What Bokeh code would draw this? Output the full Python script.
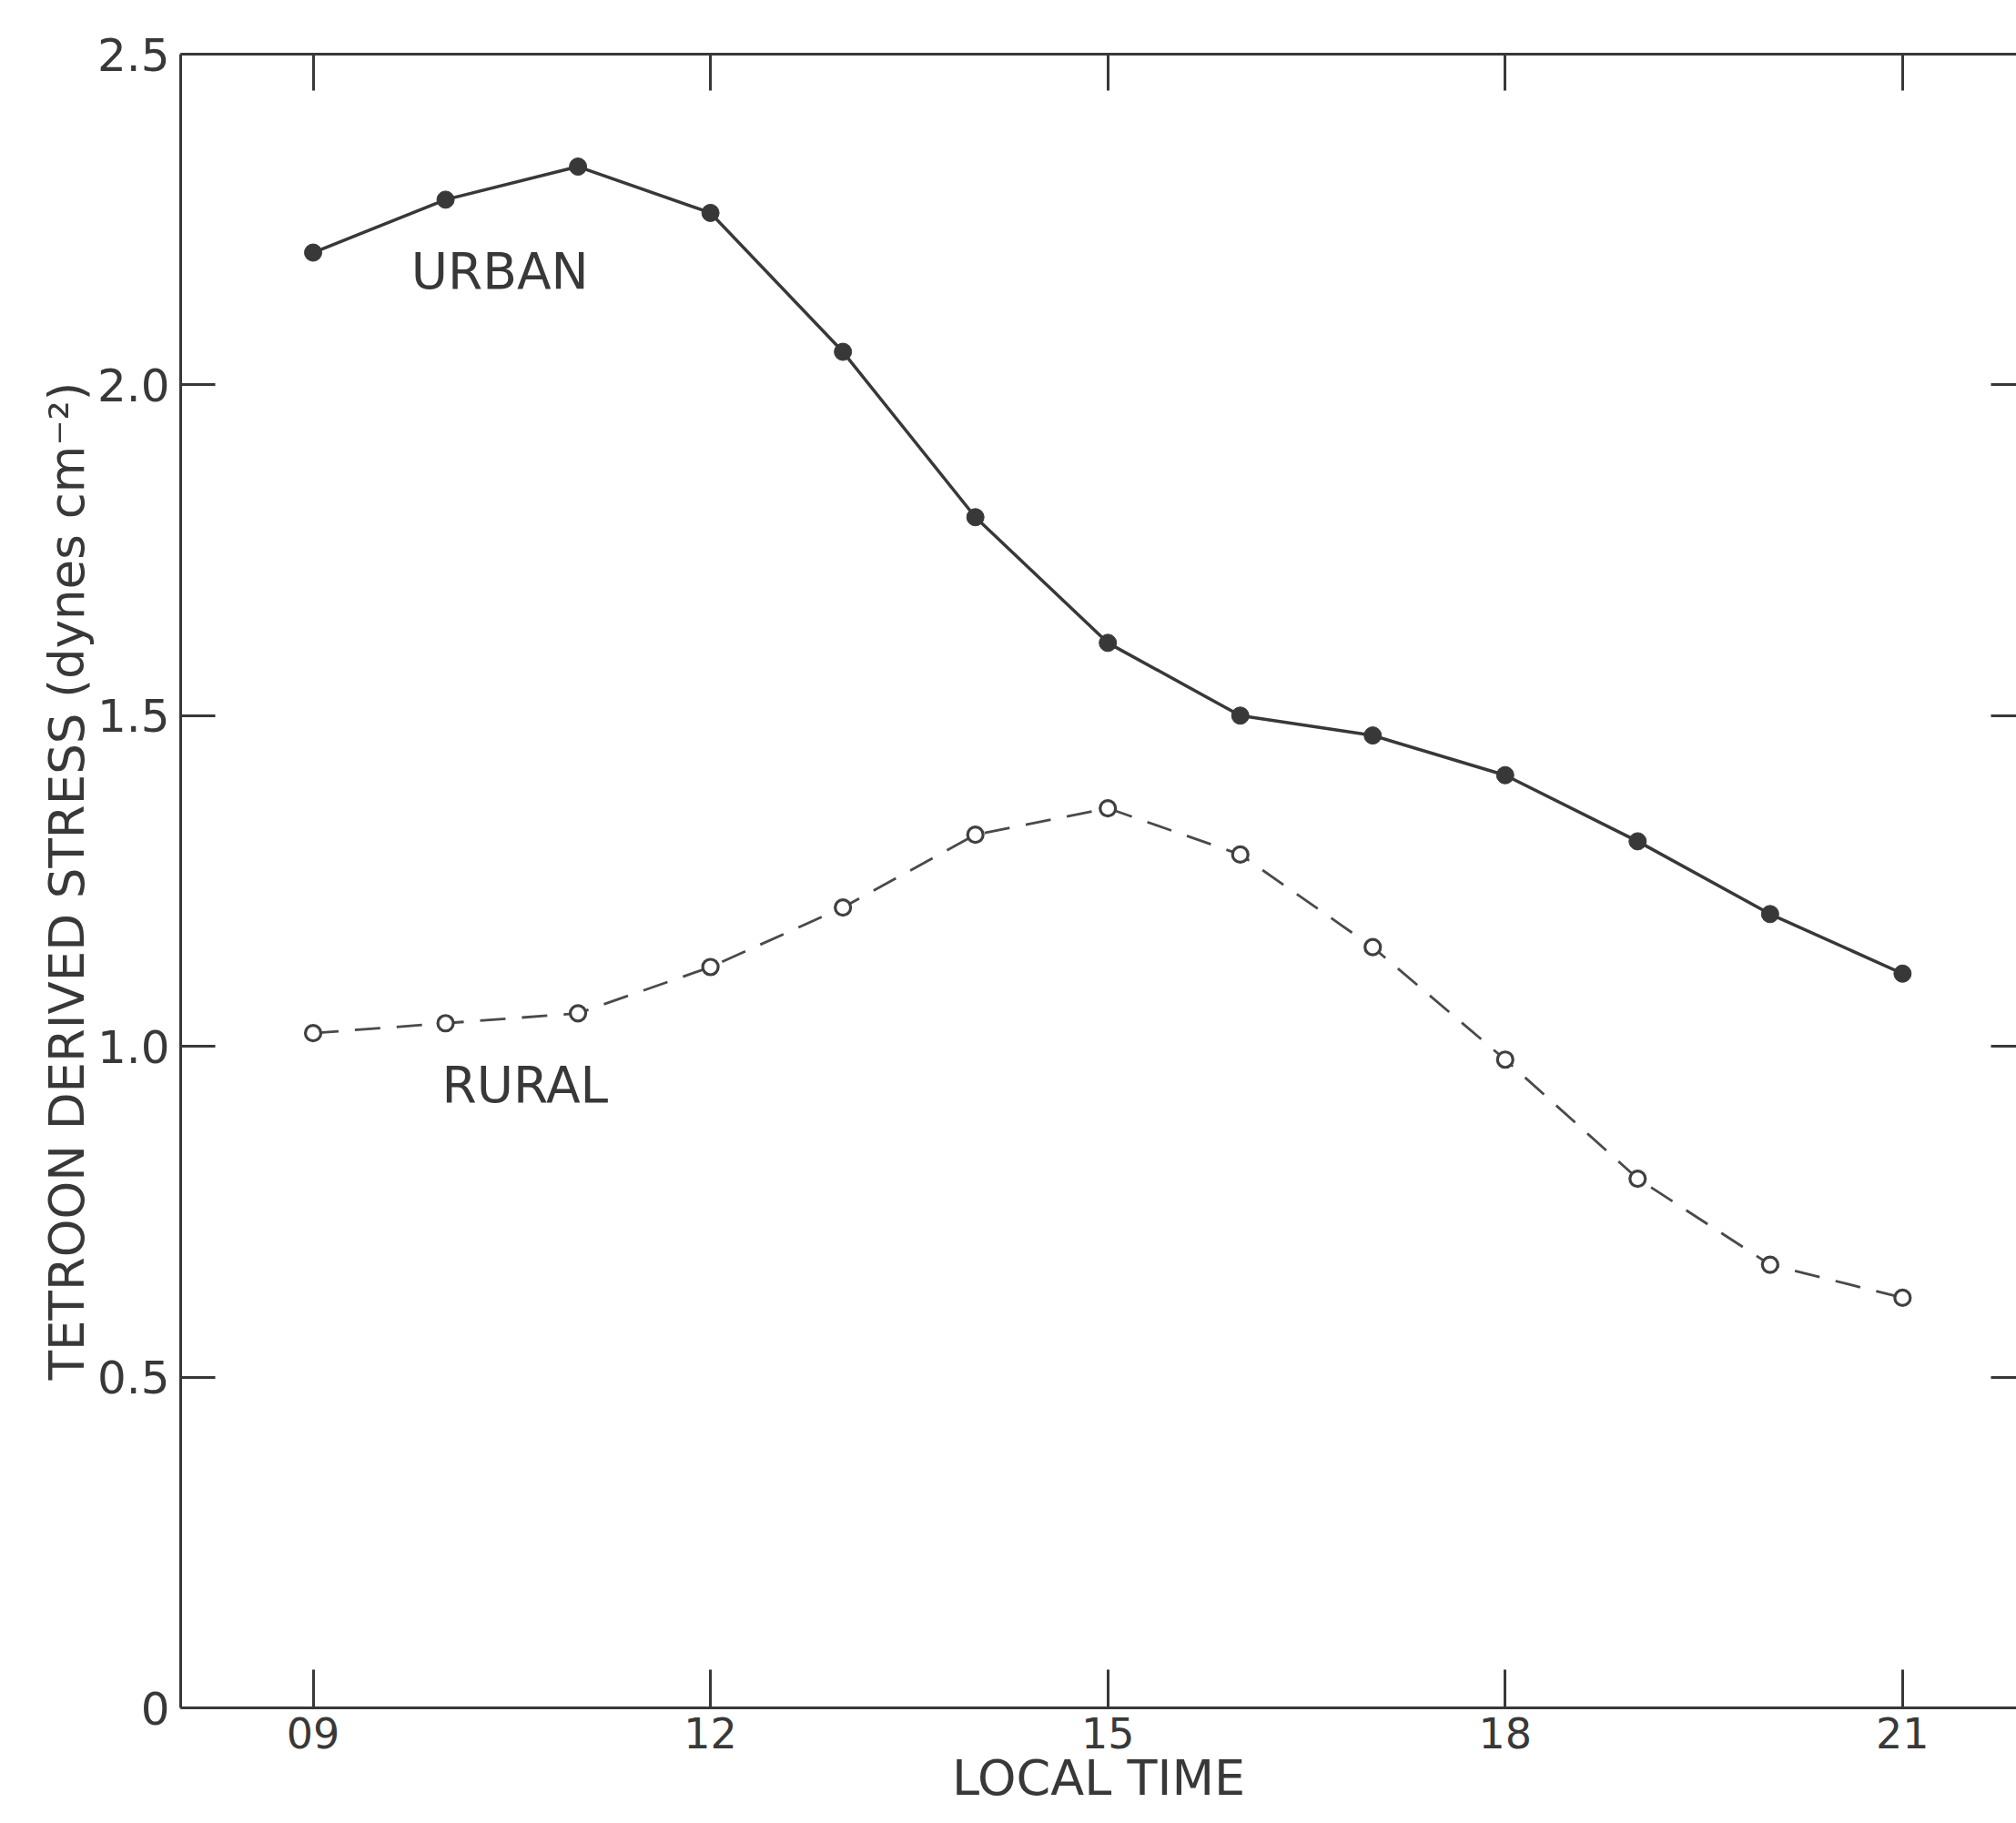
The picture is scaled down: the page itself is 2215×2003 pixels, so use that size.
from bokeh.plotting import figure
from bokeh.models import LinearAxis, FixedTicker, ColumnDataSource
from bokeh.core.properties import value
from bokeh.embed import file_html
from bokeh.resources import INLINE

# ---- data ----
hours = [9, 10, 11, 12, 13, 14, 15, 16, 17, 18, 19, 20, 21]
urban = [2.20, 2.28, 2.33, 2.26, 2.05, 1.80, 1.61, 1.50, 1.47, 1.41, 1.31, 1.20, 1.11]
rural = [1.02, 1.035, 1.05, 1.12, 1.21, 1.32, 1.36, 1.29, 1.15, 0.98, 0.80, 0.67, 0.62]

x_ticks = [9, 12, 15, 18, 21]
x_tick_labels = ["09", "12", "15", "18", "21"]
y_ticks = [0, 0.5, 1.0, 1.5, 2.0, 2.5]
y_tick_labels = ["0", "0.5", "1.0", "1.5", "2.0", "2.5"]
right_ticks = [0.5, 1.0, 1.5, 2.0]

series_labels = ["URBAN", "RURAL"]
series_label_x = [10.41, 10.60]
series_label_y = [2.172, 0.942]

x_title = "LOCAL TIME"
y_title = "TETROON DERIVED STRESS (dynes cm\u207b\u00b2)"

INK = "#383838"
FONT = "DejaVu Sans"

p = figure(width=2215, height=2003, x_range=(8.0, 21.86), y_range=(0, 2.5),
           output_backend="svg", toolbar_location=None,
           min_border_left=198, min_border_top=59, min_border_bottom=127,
           min_border_right=0)
p.outline_line_color = None
p.xgrid.visible = False
p.ygrid.visible = False
p.background_fill_color = "white"
p.border_fill_color = "white"

# bottom axis
xa = p.xaxis[0]
xa.ticker = FixedTicker(ticks=x_ticks)
xa.major_label_overrides = {t: l for t, l in zip(x_ticks, x_tick_labels)}
xa.major_tick_in = 42
xa.major_tick_out = 0
xa.minor_tick_line_color = None
xa.axis_line_width = 3
xa.axis_line_color = INK
xa.major_tick_line_width = 3
xa.major_tick_line_color = INK
xa.major_label_text_font = FONT
xa.major_label_text_font_size = "46px"
xa.major_label_text_color = INK
xa.major_label_standoff = 10
xa.axis_label = x_title
xa.axis_label_text_font = FONT
xa.axis_label_text_font_size = "54px"
xa.axis_label_text_font_style = "normal"
xa.axis_label_text_color = INK
xa.axis_label_standoff = -2

# left axis
ya = p.yaxis[0]
ya.ticker = FixedTicker(ticks=y_ticks)
ya.major_label_overrides = {t: l for t, l in zip(y_ticks, y_tick_labels)}
ya.major_tick_in = 38
ya.major_tick_out = 0
ya.minor_tick_line_color = None
ya.axis_line_width = 3
ya.axis_line_color = INK
ya.major_tick_line_width = 3
ya.major_tick_line_color = INK
ya.major_label_text_font = FONT
ya.major_label_text_font_size = "50px"
ya.major_label_text_color = INK
ya.major_label_standoff = 12
ya.axis_label = y_title
ya.axis_label_text_font = FONT
ya.axis_label_text_font_size = "53px"
ya.axis_label_text_font_style = "normal"
ya.axis_label_text_color = INK
ya.axis_label_standoff = 0

# top axis (frame line with inward ticks)
top = LinearAxis(ticker=FixedTicker(ticks=x_ticks),
                 major_label_overrides={t: "" for t in x_ticks},
                 major_label_text_font_size="0px", major_label_standoff=0,
                 major_tick_in=40, major_tick_out=0,
                 minor_tick_line_color=None,
                 axis_line_width=3, axis_line_color=INK,
                 major_tick_line_width=3, major_tick_line_color=INK)
p.add_layout(top, "above")

# right axis (only inward ticks visible; frame edge falls off the page)
right = LinearAxis(ticker=FixedTicker(ticks=right_ticks),
                   major_label_overrides={t: "" for t in right_ticks},
                   major_label_text_font_size="0px", major_label_standoff=0,
                   major_tick_in=28, major_tick_out=0,
                   minor_tick_line_color=None,
                   axis_line_color=None,
                   major_tick_line_width=3, major_tick_line_color=INK)
p.add_layout(right, "right")

# series
p.line(hours, urban, line_width=3.5, line_color=INK)
p.scatter(hours, urban, size=19, fill_color=INK, line_color=INK)

p.line(hours, rural, line_width=2.8, line_color="#4a4a4a", line_dash="28 18")
p.scatter(hours, rural, size=17, fill_color="white", line_color="#404040", line_width=3.2)

# series labels
src = ColumnDataSource(dict(x=series_label_x, y=series_label_y, t=series_labels))
p.text(x="x", y="y", text="t", source=src, text_font=value(FONT),
       text_font_size="55px", text_color=INK, text_align="center",
       text_baseline="middle")

open("out.html", "w").write(file_html(p, INLINE))
